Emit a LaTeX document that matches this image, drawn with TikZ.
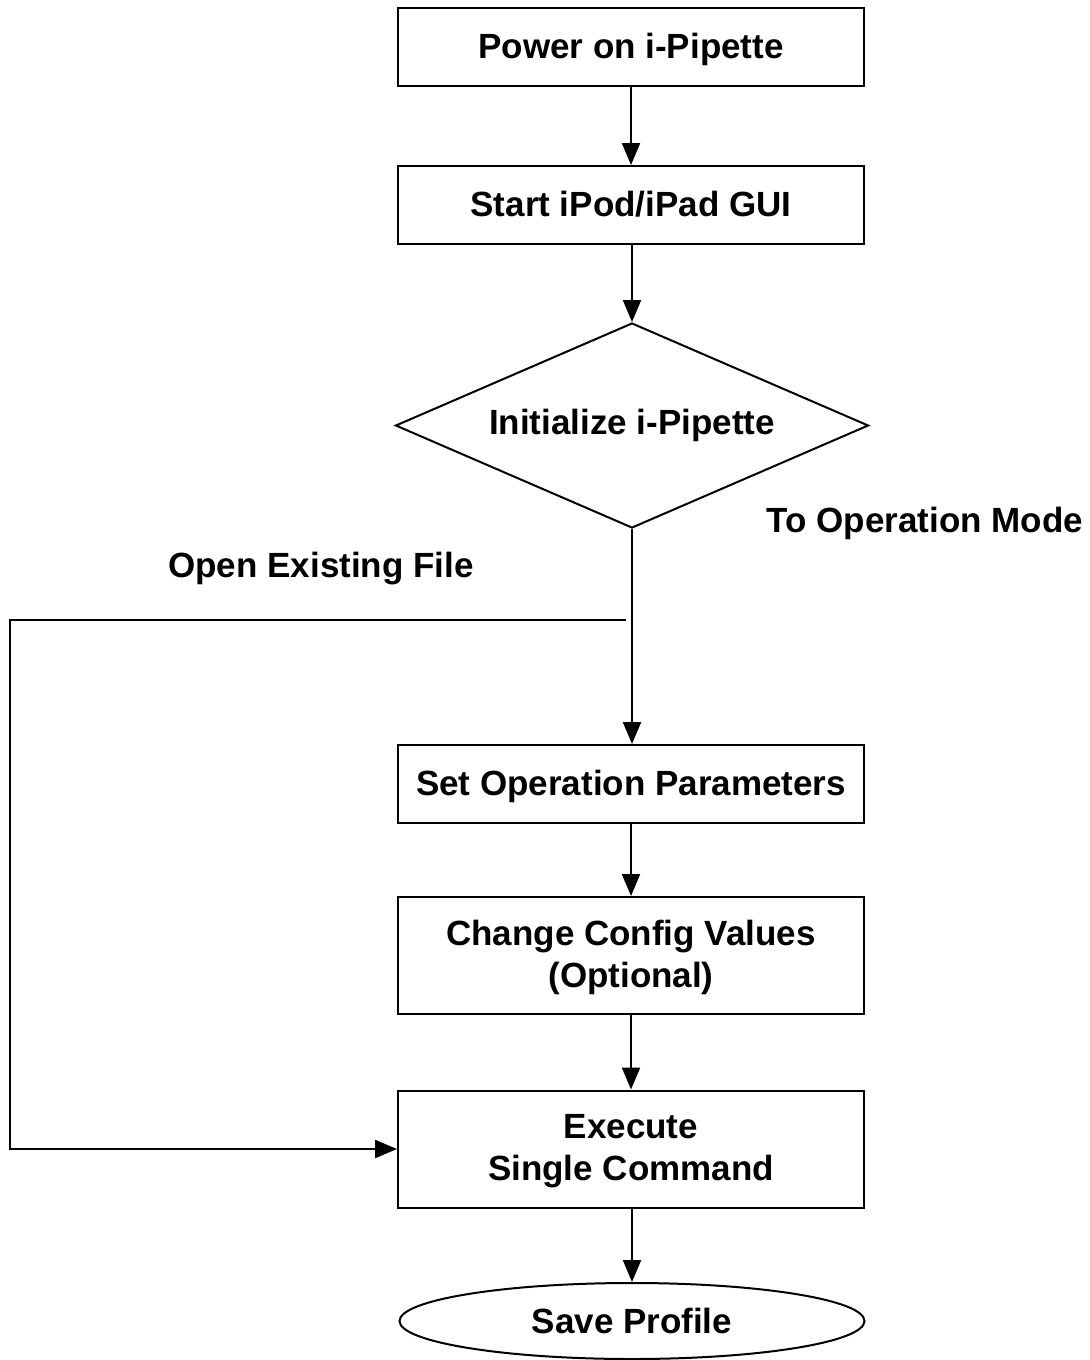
\documentclass[tikz,border=0pt]{standalone}
\usepackage{fontspec}
\setmainfont{Liberation Sans}
\usetikzlibrary{shapes.geometric,arrows.meta}
\begin{document}
\begin{tikzpicture}[x=0.5pt,y=-0.5pt,
  every node/.style={font=\fontsize{17.5}{21}\selectfont\bfseries},
  procbox/.style={draw,line width=1pt,minimum width=233pt,minimum height=39pt,inner sep=0pt,align=center,text depth=1.5pt},
  tallbox/.style={procbox,minimum height=58.5pt},
  decision/.style={draw,diamond,aspect=2.3,line width=1pt,minimum width=236.5pt,minimum height=102.5pt,inner sep=0pt},
  terminal/.style={draw,ellipse,line width=1pt,minimum width=232.5pt,minimum height=38pt,inner sep=0pt},
  flow/.style={line width=1.1pt,-{Triangle[length=11pt,width=9pt]}}]
\useasboundingbox (0,0) rectangle (1089,1360);
\node[procbox] (b1) at (631,47) {Power on i-Pipette};
\node[procbox] (b2) at (631,205) {Start iPod/iPad GUI};
\node[decision] (d1) at (632,425.5) {Initialize i-Pipette};
\node[procbox] (b3) at (631,784) {Set Operation Parameters};
\node[tallbox] (b4) at (631,955.5) {Change Config Values\\(Optional)};
\node[tallbox] (b5) at (631,1149) {Execute\\Single Command};
\node[terminal] (e1) at (632,1321) {Save Profile};
\node[anchor=east] (l1) at (1090,523) {To Operation Mode};
\node (l2) at (321,569) {Open Existing File};
\coordinate (j) at (d1.south |- 0,620);
\coordinate (jl) at (10,620);
\draw[flow] (b1) -- (b2);
\draw[flow] (b2.south -| d1.north) -- (d1.north);
\draw[flow] (d1.south) -- (d1.south |- b3.north);
\draw[flow] (b3) -- (b4);
\draw[flow] (b4) -- (b5);
\draw[flow] (b5.south -| e1.north) -- (e1.north);
\draw[flow] ([xshift=-3pt]j) -- (jl) -- (jl |- b5.west) -- (b5.west);
\end{tikzpicture}
\end{document}
